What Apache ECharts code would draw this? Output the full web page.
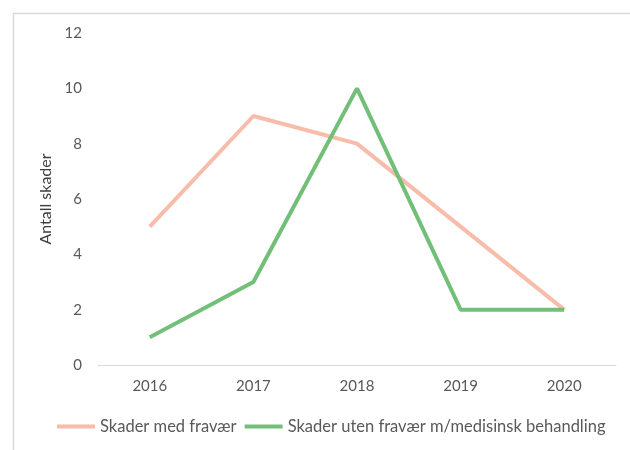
<!DOCTYPE html>
<html>
<head>
<meta charset="utf-8">
<script src="https://cdn.jsdelivr.net/npm/echarts@6/dist/echarts.min.js"></script>
<style>
html,body{margin:0;padding:0;background:#fff;}
#chart{width:630px;height:450px;}
</style>
</head>
<body>
<div id="chart"></div>
<script>
const years = ['2016', '2017', '2018', '2019', '2020'];
const medFravaer = [5, 9, 8, 5, 2];
const utenFravaer = [1, 3, 10, 2, 2];
const yTicks = [0, 2, 4, 6, 8, 10, 12];

const font = 'Lato';
const chart = echarts.init(document.getElementById('chart'));
chart.setOption({
    animation: false,
    textStyle: { fontFamily: font },
    graphic: [{
        type: 'rect',
        shape: { x: 13.5, y: 13.5, width: 700, height: 500 },
        style: { fill: 'none', stroke: '#d9d9d9', lineWidth: 1.5 },
        silent: true
    }],
    grid: { left: 98, right: 14, top: 33, bottom: 85 },
    legend: {
        bottom: 10,
        left: 52,
        itemWidth: 38,
        itemHeight: 4,
        itemGap: 8,
        icon: 'rect',
        textStyle: { color: '#595959', fontSize: 16.5, fontFamily: font },
        data: ['Skader med fravær', 'Skader uten fravær m/medisinsk behandling']
    },
    xAxis: {
        type: 'category',
        data: years,
        boundaryGap: true,
        axisLine: { lineStyle: { color: '#d9d9d9', width: 1 } },
        axisTick: { show: false },
        axisLabel: { color: '#595959', fontSize: 15, margin: 14, fontFamily: font }
    },
    yAxis: {
        type: 'value',
        min: yTicks[0],
        max: yTicks[yTicks.length - 1],
        interval: 2,
        name: 'Antall skader',
        nameLocation: 'middle',
        nameGap: 42,
        nameTextStyle: { color: '#404040', fontSize: 16, fontFamily: font },
        axisLine: { show: false },
        axisTick: { show: false },
        splitLine: { show: false },
        axisLabel: { color: '#595959', fontSize: 15, margin: 16, fontFamily: font }
    },
    series: [
        {
            name: 'Skader med fravær',
            type: 'line',
            data: medFravaer,
            symbol: 'none',
            itemStyle: { color: '#f8bcab' },
            lineStyle: { color: '#f8bcab', width: 4 }
        },
        {
            name: 'Skader uten fravær m/medisinsk behandling',
            type: 'line',
            data: utenFravaer,
            symbol: 'none',
            itemStyle: { color: '#72bf78' },
            lineStyle: { color: '#72bf78', width: 4 }
        }
    ]
});
</script>
</body>
</html>
